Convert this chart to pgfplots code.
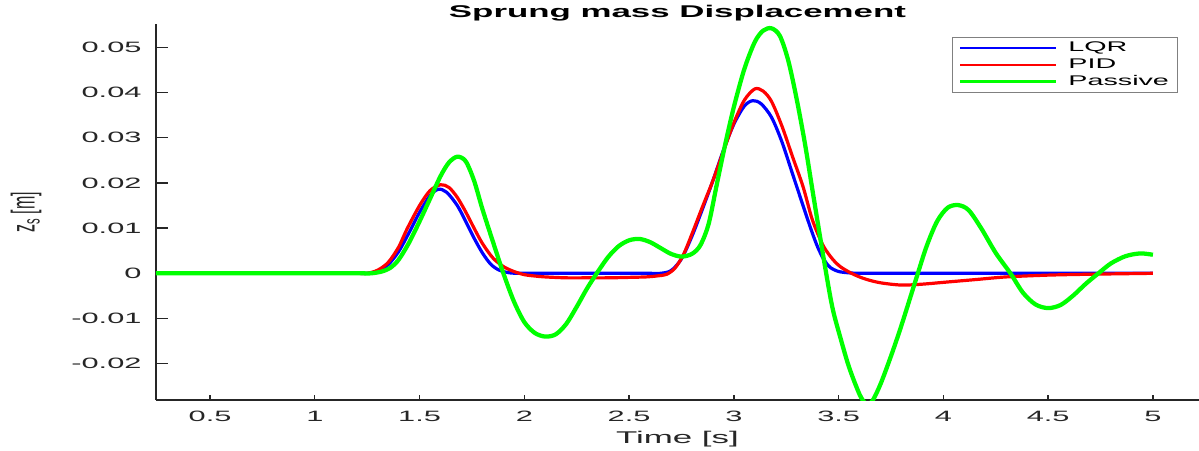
\documentclass[border=0pt]{standalone}
\usepackage{pgfplots}
\pgfplotsset{compat=1.18}
\usepackage{fontspec}
\setmainfont{Liberation Sans}[FakeStretch=2.05]
\newfontfamily\ylabfont{Liberation Sans}[FakeStretch=0.485]
\definecolor{axgray}{RGB}{38,38,38}
\begin{document}
\begin{tikzpicture}
\begin{axis}[
  at={(0,0)}, anchor=south west,
  scale only axis, width=782.25pt, height=282pt,
  xmin=0.242, xmax=5.22, ymin=-0.02803, ymax=0.05516,
  axis lines*=left,
  axis line style={-, color=axgray, line width=1pt},
  tick style={color=axgray, line width=1pt},
  tick align=inside,
  major tick length=8.5pt,
  xtick style={/pgfplots/major tick length=3.75pt},
  ytick style={/pgfplots/major tick length=8.75pt},
  xtick={0.5,1,1.5,2,2.5,3,3.5,4,4.5,5},
  xticklabels={0.5,1,1.5,2,2.5,3,3.5,4,4.5,5},
  ytick={-0.02,-0.01,0,0.01,0.02,0.03,0.04,0.05},
  yticklabels={-0.02,-0.01,0,0.01,0.02,0.03,0.04,0.05},
  scaled ticks=false,
  /pgf/number format/assume math mode=true,
  ticklabel style={font=\fontsize{11.25}{12}\selectfont, text=axgray},
  xticklabel style={anchor=base, inner sep=0pt, yshift=-16.3pt},
  yticklabel style={anchor=east, inner sep=0pt, xshift=-10.7pt},
  title={\textbf{Sprung mass Displacement}},
  every axis title/.style={at={(axis description cs:0.5,1.018)}, anchor=base, font=\fontsize{12.75}{14}\selectfont},
  xlabel={Time [s]},
  xlabel style={at={(axis description cs:0.5,-0.1144)}, anchor=base, font=\fontsize{12.75}{14}\selectfont, text=axgray},
  ylabel={\ylabfont z\textsubscript{s} [m]},
  every axis y label/.style={at={(axis description cs:-0.1246,0.4986)}, rotate=90, anchor=center, inner sep=0pt, font=\fontsize{24.75}{26}\selectfont, text=axgray},
  legend style={at={(axis description cs:0.98,0.9654)}, anchor=north east,
    draw=gray, line width=0.8pt, fill=white,
    font=\fontsize{10.5}{12}\selectfont, inner xsep=5pt, inner ysep=2pt,
    row sep=0.8pt, nodes={inner sep=1.5pt}},
  legend cell align=left,
  legend image code/.code={\draw[#1, line width=2pt] (0pt,0pt) -- (72pt,0pt); \path (78pt,0pt);},
]
\addplot[color={rgb,255:red,0;green,0;blue,255}, line width=2.4pt, smooth, line join=round] coordinates {
(0.242,0) (0.5,0) (0.8,0) (1.0,0) (1.1,0) (1.15,0) (1.2,0) (1.25,0) (1.30,0.0005) (1.35,0.0019) (1.40,0.0048) (1.45,0.0090) (1.50,0.0135)
(1.55,0.0172) (1.59,0.0186) (1.63,0.0179) (1.68,0.0150) (1.72,0.0115) (1.76,0.0078)
(1.80,0.0045) (1.84,0.0020) (1.88,0.0007) (1.93,0.0001) (1.98,0) (2.03,0) (2.08,0) (2.2,0) (2.4,0) (2.5,0) (2.55,0) (2.60,0) (2.65,0)
(2.70,0.0006) (2.75,0.0032) (2.80,0.0082) (2.85,0.0142) (2.90,0.0205) (2.95,0.0272)
(3.00,0.0330) (3.05,0.0370) (3.09,0.0382) (3.13,0.0375) (3.18,0.0345) (3.23,0.0290)
(3.28,0.0220) (3.33,0.0150) (3.37,0.0095) (3.40,0.0058) (3.43,0.0030) (3.46,0.0013)
(3.50,0.0004) (3.55,0.0001) (3.60,0) (3.65,0) (3.70,0) (3.8,0) (4.0,0) (4.3,0) (4.6,0) (4.8,0) (4.9,0) (5.00,0)
};
\addlegendentry{LQR}
\addplot[color={rgb,255:red,255;green,0;blue,0}, line width=2.4pt, smooth, line join=round] coordinates {
(0.242,0) (0.5,0) (0.8,0) (1.0,0) (1.1,0) (1.15,0) (1.2,0) (1.25,0) (1.30,0.0007) (1.35,0.0024) (1.40,0.0058) (1.44,0.0098) (1.50,0.0150)
(1.55,0.0183) (1.60,0.0196) (1.64,0.0190) (1.68,0.0168) (1.72,0.0136) (1.76,0.0100)
(1.80,0.0066) (1.85,0.0034) (1.90,0.0015) (1.95,0.0004) (2.00,-0.0003) (2.05,-0.0006) (2.10,-0.0008)
(2.20,-0.0010) (2.30,-0.0010) (2.40,-0.0010) (2.50,-0.0009) (2.58,-0.0008) (2.63,-0.0006) (2.68,-0.0002) (2.72,0.0012)
(2.76,0.0042) (2.80,0.0087) (2.85,0.0147) (2.90,0.0205) (2.95,0.0270) (3.00,0.0333)
(3.05,0.0383) (3.10,0.0408) (3.14,0.0403) (3.18,0.0380) (3.23,0.0325) (3.28,0.0258)
(3.33,0.0192) (3.37,0.0125) (3.40,0.0088) (3.43,0.0058) (3.47,0.0032) (3.51,0.0014)
(3.57,-0.0002) (3.63,-0.0013) (3.70,-0.0021) (3.80,-0.0026) (3.90,-0.0024) (4.00,-0.0020)
(4.15,-0.0014) (4.30,-0.0008) (4.50,-0.0004) (4.70,-0.0002) (4.85,-0.0001) (5.00,0)
};
\addlegendentry{PID}
\addplot[color={rgb,255:red,0;green,255;blue,0}, line width=3.2pt, smooth, line join=round] coordinates {
(0.242,0) (0.5,0) (0.8,0) (1.0,0) (1.1,0) (1.17,0) (1.22,0) (1.27,0) (1.32,0.0004) (1.36,0.0012) (1.40,0.0030) (1.45,0.0068) (1.50,0.0115)
(1.55,0.0165) (1.60,0.0215) (1.64,0.0245) (1.68,0.0258) (1.72,0.0248) (1.76,0.0205)
(1.80,0.0142) (1.85,0.0070) (1.90,0.0000) (1.95,-0.0062) (2.00,-0.0108) (2.05,-0.0132)
(2.10,-0.0140) (2.15,-0.0135) (2.20,-0.0112) (2.25,-0.0074) (2.30,-0.0033) (2.35,0.0003)
(2.40,0.0036) (2.45,0.0060) (2.50,0.0073) (2.55,0.0076) (2.60,0.0069) (2.65,0.0056)
(2.70,0.0043) (2.75,0.0037) (2.80,0.0043) (2.84,0.0062) (2.88,0.0110) (2.92,0.0200)
(2.96,0.0288) (3.00,0.0368) (3.05,0.0452) (3.10,0.0512) (3.14,0.0537) (3.18,0.0542)
(3.22,0.0525) (3.26,0.0470) (3.30,0.0385) (3.34,0.0285) (3.38,0.0170) (3.43,0.0029)
(3.47,-0.0075) (3.51,-0.0145) (3.55,-0.0208) (3.60,-0.0268) (3.63,-0.0288) (3.66,-0.0283)
(3.70,-0.0245) (3.75,-0.0183) (3.80,-0.0115) (3.87,-0.0012) (3.92,0.0060) (3.97,0.0115)
(4.02,0.0145) (4.07,0.0151) (4.12,0.0140) (4.18,0.0100) (4.25,0.0045) (4.32,0.0000)
(4.38,-0.0043) (4.44,-0.0069) (4.50,-0.0077) (4.56,-0.0070) (4.62,-0.0049) (4.68,-0.0023)
(4.74,0.0000) (4.80,0.0022) (4.87,0.0038) (4.94,0.0044) (5.00,0.0041)
};
\addlegendentry{Passive}
\end{axis}
\pgfresetboundingbox
\path[use as bounding box] (-117pt,-37.5pt) rectangle (782.25pt,300pt);
\end{tikzpicture}
\end{document}
